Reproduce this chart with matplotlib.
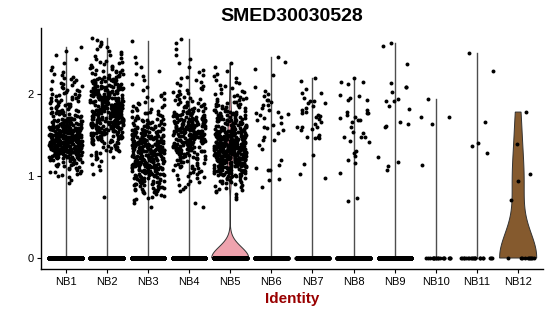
import numpy as np
import matplotlib

matplotlib.use("Agg")
import matplotlib.pyplot as plt

plt.rcParams["font.family"] = ["Liberation Sans", "DejaVu Sans"]

title = "SMED30030528"
xlabel = "Identity"
clusters = ["NB1", "NB2", "NB3", "NB4", "NB5", "NB6",
            "NB7", "NB8", "NB9", "NB10", "NB11", "NB12"]

# cells with zero expression in each cluster
zero_counts = [2500, 2200, 2000, 1800, 1100, 900, 800, 800, 600, 18, 20, 10]

# big clusters: number of expressing cells per 0.1 bin, bins start at these values
bin_starts = [0.6, 0.7, 0.8, 0.9, 1.0, 1.1, 1.2, 1.3, 1.4, 1.5, 1.6,
              1.7, 1.8, 1.9, 2.0, 2.1, 2.2, 2.3, 2.4, 2.5, 2.6]
nb1_counts = [0, 0, 0, 3, 10, 15, 50, 80, 90, 60, 35, 20, 15, 14, 10, 8, 5, 2, 2, 2, 0]
nb2_counts = [0, 1, 0, 0, 2, 3, 8, 15, 25, 35, 45, 50, 45, 40, 35, 25, 15, 10, 6, 5, 4]
nb3_counts = [2, 8, 18, 25, 35, 45, 50, 50, 40, 30, 20, 12, 8, 6, 3, 2, 3, 2, 1, 0, 1]
nb4_counts = [2, 0, 4, 6, 10, 14, 20, 30, 40, 45, 38, 25, 15, 10, 7, 5, 4, 2, 2, 1, 2]
nb5_counts = [0, 3, 8, 15, 30, 50, 70, 70, 55, 40, 30, 22, 15, 10, 6, 5, 3, 2, 0, 0, 0]

# small clusters: expressing cells read one by one
nb6_values = [2.45, 2.39, 2.31, 2.23, 2.09, 2.04, 2.00, 1.97, 1.93, 1.93, 1.90,
              1.87, 1.86, 1.83, 1.80, 1.78, 1.77, 1.76, 1.74, 1.72, 1.71, 1.68,
              1.65, 1.62, 1.60, 1.59, 1.56, 1.52, 1.48, 1.44, 1.44, 1.38, 1.33,
              1.19, 1.13, 1.10, 1.07, 1.07, 0.96, 0.95, 0.86]
nb7_values = [2.20, 2.16, 2.06, 2.01, 2.01, 1.95, 1.92, 1.91, 1.89, 1.89, 1.85,
              1.83, 1.80, 1.78, 1.77, 1.74, 1.73, 1.72, 1.70, 1.66, 1.64, 1.60,
              1.60, 1.60, 1.57, 1.56, 1.50, 1.48, 1.48, 1.46, 1.46, 1.26, 1.15,
              1.02, 0.98]
nb8_values = [2.19, 2.15, 2.15, 2.12, 1.99, 1.97, 1.95, 1.93, 1.93, 1.80, 1.78,
              1.77, 1.77, 1.74, 1.72, 1.71, 1.68, 1.68, 1.66, 1.60, 1.54, 1.52,
              1.48, 1.48, 1.48, 1.43, 1.42, 1.30, 1.28, 1.25, 1.19, 1.16, 1.04,
              0.73, 0.69]
nb9_values = [2.62, 2.59, 2.37, 2.13, 2.09, 2.08, 2.02, 1.94, 1.91, 1.91, 1.85,
              1.82, 1.66, 1.64, 1.61, 1.60, 1.23, 1.17, 1.12, 1.07]
nb10_values = [1.94, 1.72, 1.72, 1.63, 1.13]
nb11_values = [2.50, 2.28, 1.66, 1.40, 1.36, 1.28]
nb12_values = [1.78, 1.39, 1.03, 0.94, 0.71]

violin_fills = {"NB5": "#EFA3AE", "NB12": "#855A2E"}


def expand_bins(counts, width=0.1):
    ys = []
    for lo, n in zip(bin_starts, counts):
        ys.extend(lo + (np.arange(n) + 0.5) / max(n, 1) * width)
    return ys


def bandwidth(x):
    # R's bw.nrd0; Seurat's tiny noise makes it ~0 when the IQR collapses
    hi = x.std(ddof=1)
    q75, q25 = np.percentile(x, [75, 25])
    lo = min(hi, (q75 - q25) / 1.34)
    return 0.9 * lo * len(x) ** -0.2


expressed = [expand_bins(nb1_counts), expand_bins(nb2_counts),
             expand_bins(nb3_counts), expand_bins(nb4_counts),
             expand_bins(nb5_counts), nb6_values, nb7_values, nb8_values,
             nb9_values, nb10_values, nb11_values, nb12_values]

fig = plt.figure(figsize=(5.5, 3.16), dpi=100)
ax = fig.add_axes([0.0745, 0.1487, 0.9125, 0.764])

rng = np.random.default_rng(7)
for i, (name, vals, nzero) in enumerate(zip(clusters, expressed, zero_counts)):
    pos = i + 1
    data = np.concatenate([np.zeros(nzero), np.asarray(vals, float)])
    bw = bandwidth(data)
    if bw > 1e-6:
        grid = np.linspace(data.min(), data.max(), 512)
        dens = np.exp(-0.5 * ((grid[:, None] - data[None, :]) / bw) ** 2).sum(axis=1)
        half = 0.45 * dens / dens.max()
        ax.fill(np.r_[pos - half, (pos + half)[::-1]], np.r_[grid, grid[::-1]],
                facecolor=violin_fills.get(name, "#cccccc"), edgecolor="#333333",
                linewidth=0.7, zorder=2)
    else:
        ax.plot([pos, pos], [0, data.max()], color="#4d4d4d", lw=1.0, zorder=2)

    jitter = rng.uniform(-0.4, 0.4, len(data))
    ax.scatter(pos + jitter, data, s=8, c="black", linewidths=0, zorder=3)

ax.set_xlim(0.4, 12.6)
ax.set_ylim(-0.134, 2.81)
ax.set_xticks(range(1, 13))
ax.set_xticklabels(clusters)
ax.set_yticks([0, 1, 2])
ax.set_yticklabels(["0", "1", "2"])
ax.tick_params(length=3, width=0.8, labelsize=8, colors="black", pad=2.5)
for side in ("top", "right"):
    ax.spines[side].set_visible(False)
for side in ("left", "bottom"):
    ax.spines[side].set_linewidth(1.0)
    ax.spines[side].set_color("black")

fig.text(0.531, 0.949, title, ha="center", va="center",
         fontsize=14, fontweight="bold")
fig.text(0.531, 0.054, xlabel, ha="center", va="center",
         fontsize=11, fontweight="bold", color="#990000")

fig.savefig("out.png", dpi=100)
